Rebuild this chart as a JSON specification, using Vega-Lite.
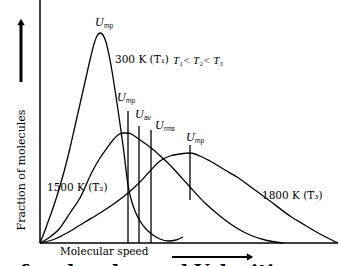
{
  "$schema": "https://vega.github.io/schema/vega-lite/v6.json",
  "width": 339,
  "height": 266,
  "padding": 0,
  "autosize": {"type": "none"},
  "background": "white",
  "config": {"view": {"stroke": null}},
  "datasets": {
    "curves": [
      {"T": "300 K", "speed": 0, "fraction": 0},
      {"T": "300 K", "speed": 4, "fraction": 10},
      {"T": "300 K", "speed": 8, "fraction": 21},
      {"T": "300 K", "speed": 12, "fraction": 32},
      {"T": "300 K", "speed": 16, "fraction": 44},
      {"T": "300 K", "speed": 20, "fraction": 57},
      {"T": "300 K", "speed": 25, "fraction": 75},
      {"T": "300 K", "speed": 30, "fraction": 95},
      {"T": "300 K", "speed": 35, "fraction": 117},
      {"T": "300 K", "speed": 40, "fraction": 139},
      {"T": "300 K", "speed": 45, "fraction": 161},
      {"T": "300 K", "speed": 50, "fraction": 183},
      {"T": "300 K", "speed": 54, "fraction": 199},
      {"T": "300 K", "speed": 57, "fraction": 207},
      {"T": "300 K", "speed": 60, "fraction": 210},
      {"T": "300 K", "speed": 63, "fraction": 208},
      {"T": "300 K", "speed": 66, "fraction": 201},
      {"T": "300 K", "speed": 69, "fraction": 188},
      {"T": "300 K", "speed": 72, "fraction": 172},
      {"T": "300 K", "speed": 75, "fraction": 153},
      {"T": "300 K", "speed": 78, "fraction": 133},
      {"T": "300 K", "speed": 81, "fraction": 112},
      {"T": "300 K", "speed": 84, "fraction": 90},
      {"T": "300 K", "speed": 86, "fraction": 73},
      {"T": "300 K", "speed": 88, "fraction": 58},
      {"T": "300 K", "speed": 91, "fraction": 44},
      {"T": "300 K", "speed": 95, "fraction": 32},
      {"T": "300 K", "speed": 100, "fraction": 22},
      {"T": "300 K", "speed": 106, "fraction": 14},
      {"T": "300 K", "speed": 113, "fraction": 8},
      {"T": "300 K", "speed": 120, "fraction": 4},
      {"T": "300 K", "speed": 128, "fraction": 2},
      {"T": "300 K", "speed": 136, "fraction": 3},
      {"T": "300 K", "speed": 143, "fraction": 6},
      {"T": "1500 K", "speed": 0, "fraction": 0},
      {"T": "1500 K", "speed": 10, "fraction": 6},
      {"T": "1500 K", "speed": 20, "fraction": 15},
      {"T": "1500 K", "speed": 30, "fraction": 30},
      {"T": "1500 K", "speed": 40, "fraction": 45},
      {"T": "1500 K", "speed": 52, "fraction": 71},
      {"T": "1500 K", "speed": 60, "fraction": 85},
      {"T": "1500 K", "speed": 67, "fraction": 95},
      {"T": "1500 K", "speed": 73, "fraction": 103},
      {"T": "1500 K", "speed": 78, "fraction": 108},
      {"T": "1500 K", "speed": 83, "fraction": 110},
      {"T": "1500 K", "speed": 88, "fraction": 110},
      {"T": "1500 K", "speed": 93, "fraction": 108},
      {"T": "1500 K", "speed": 100, "fraction": 103},
      {"T": "1500 K", "speed": 110, "fraction": 96},
      {"T": "1500 K", "speed": 117, "fraction": 90},
      {"T": "1500 K", "speed": 130, "fraction": 78},
      {"T": "1500 K", "speed": 140, "fraction": 67},
      {"T": "1500 K", "speed": 150, "fraction": 56},
      {"T": "1500 K", "speed": 165, "fraction": 40},
      {"T": "1500 K", "speed": 180, "fraction": 27},
      {"T": "1500 K", "speed": 195, "fraction": 16},
      {"T": "1500 K", "speed": 210, "fraction": 8},
      {"T": "1500 K", "speed": 225, "fraction": 3},
      {"T": "1500 K", "speed": 243, "fraction": 0},
      {"T": "1800 K", "speed": 0, "fraction": 0},
      {"T": "1800 K", "speed": 15, "fraction": 4},
      {"T": "1800 K", "speed": 27, "fraction": 10},
      {"T": "1800 K", "speed": 45, "fraction": 21},
      {"T": "1800 K", "speed": 60, "fraction": 30},
      {"T": "1800 K", "speed": 75, "fraction": 40},
      {"T": "1800 K", "speed": 88, "fraction": 50},
      {"T": "1800 K", "speed": 100, "fraction": 61},
      {"T": "1800 K", "speed": 110, "fraction": 72},
      {"T": "1800 K", "speed": 120, "fraction": 82},
      {"T": "1800 K", "speed": 130, "fraction": 87},
      {"T": "1800 K", "speed": 140, "fraction": 89},
      {"T": "1800 K", "speed": 150, "fraction": 90},
      {"T": "1800 K", "speed": 160, "fraction": 87},
      {"T": "1800 K", "speed": 170, "fraction": 82},
      {"T": "1800 K", "speed": 185, "fraction": 73},
      {"T": "1800 K", "speed": 197, "fraction": 66},
      {"T": "1800 K", "speed": 215, "fraction": 53},
      {"T": "1800 K", "speed": 230, "fraction": 42},
      {"T": "1800 K", "speed": 250, "fraction": 27},
      {"T": "1800 K", "speed": 263, "fraction": 19},
      {"T": "1800 K", "speed": 280, "fraction": 9},
      {"T": "1800 K", "speed": 298, "fraction": 0}
    ],
    "frame": [
      {"name": "y axis", "x1": 0, "x2": 0, "y1": 0, "y2": 243},
      {"name": "x axis", "x1": 0, "x2": 298, "y1": 0, "y2": 0}
    ],
    "speeds": [
      {"name": "Ump 1500", "x1": 88, "x2": 88, "y1": 0, "y2": 132},
      {"name": "Uav 1500", "x1": 99, "x2": 99, "y1": 0, "y2": 117},
      {"name": "Urms 1500", "x1": 111, "x2": 111, "y1": 0, "y2": 113},
      {"name": "Ump 1800", "x1": 150, "x2": 150, "y1": 43, "y2": 98}
    ],
    "arrows": [
      {"dir": "up", "x1": -19, "x2": -19, "y1": 161, "y2": 218},
      {"dir": "right", "x1": 132, "x2": 207, "y1": -14, "y2": -14}
    ],
    "heads": [
      {"dir": "up", "speed": -19, "fraction": 221, "shape": "triangle-up"},
      {"dir": "right", "speed": 210, "fraction": -14, "shape": "triangle-right"}
    ],
    "ulabels": [
      {"main": "U", "sub": "mp", "speed": 55, "fraction": 217},
      {"main": "U", "sub": "mp", "speed": 77, "fraction": 142},
      {"main": "U", "sub": "av", "speed": 95, "fraction": 125},
      {"main": "U", "sub": "rms", "speed": 115, "fraction": 114},
      {"main": "U", "sub": "mp", "speed": 146, "fraction": 102}
    ],
    "templabels": [
      {"text": "300 K (T₁)", "speed": 75, "fraction": 183},
      {"text": "1500 K (T₂)", "speed": 7, "fraction": 55},
      {"text": "1800 K (T₃)", "speed": 222, "fraction": 47}
    ]
  },
  "encoding": {
    "x": {"type": "quantitative", "scale": {"domain": [-40, 299], "nice": false, "zero": false}, "axis": null},
    "y": {"type": "quantitative", "scale": {"domain": [-23, 243], "nice": false, "zero": false}, "axis": null}
  },
  "layer": [
    {
      "data": {"name": "frame"},
      "mark": {"type": "rule", "color": "black", "strokeWidth": 1.5},
      "encoding": {
        "x": {"field": "x1", "type": "quantitative"},
        "x2": {"field": "x2"},
        "y": {"field": "y1", "type": "quantitative"},
        "y2": {"field": "y2"}
      }
    },
    {
      "data": {"name": "curves"},
      "mark": {"type": "line", "color": "black", "strokeWidth": 1.3, "interpolate": "monotone"},
      "encoding": {
        "x": {"field": "speed", "type": "quantitative"},
        "y": {"field": "fraction", "type": "quantitative"},
        "detail": {"field": "T", "type": "nominal"}
      }
    },
    {
      "data": {"name": "speeds"},
      "mark": {"type": "rule", "color": "black", "strokeWidth": 1.3},
      "encoding": {
        "x": {"field": "x1", "type": "quantitative"},
        "x2": {"field": "x2"},
        "y": {"field": "y1", "type": "quantitative"},
        "y2": {"field": "y2"}
      }
    },
    {
      "data": {"name": "arrows"},
      "mark": {"type": "rule", "color": "black"},
      "encoding": {
        "x": {"field": "x1", "type": "quantitative"},
        "x2": {"field": "x2"},
        "y": {"field": "y1", "type": "quantitative"},
        "y2": {"field": "y2"},
        "strokeWidth": {"field": "dir", "type": "nominal", "scale": {"domain": ["up", "right"], "range": [3, 2.2]}, "legend": null}
      }
    },
    {
      "data": {"name": "heads"},
      "mark": {"type": "point", "filled": true, "color": "black", "opacity": 1, "size": 55},
      "encoding": {
        "x": {"field": "speed", "type": "quantitative"},
        "y": {"field": "fraction", "type": "quantitative"},
        "shape": {"field": "shape", "type": "nominal", "scale": null}
      }
    },
    {
      "data": {"name": "ulabels"},
      "mark": {"type": "text", "font": "Liberation Serif", "fontStyle": "italic", "fontSize": 12, "align": "left", "baseline": "alphabetic", "color": "black"},
      "encoding": {
        "x": {"field": "speed", "type": "quantitative"},
        "y": {"field": "fraction", "type": "quantitative"},
        "text": {"field": "main"}
      }
    },
    {
      "data": {"name": "ulabels"},
      "mark": {"type": "text", "font": "Liberation Sans", "fontSize": 6.5, "align": "left", "baseline": "alphabetic", "dx": 9, "dy": 2, "color": "black"},
      "encoding": {
        "x": {"field": "speed", "type": "quantitative"},
        "y": {"field": "fraction", "type": "quantitative"},
        "text": {"field": "sub"}
      }
    },
    {
      "data": {"name": "templabels"},
      "mark": {"type": "text", "font": "DejaVu Serif", "fontSize": 10.5, "align": "left", "baseline": "middle", "color": "black"},
      "encoding": {
        "x": {"field": "speed", "type": "quantitative"},
        "y": {"field": "fraction", "type": "quantitative"},
        "text": {"field": "text"}
      }
    },
    {
      "data": {"values": [{"text": "T₁< T₂< T₃", "speed": 133, "fraction": 182}]},
      "mark": {"type": "text", "font": "Liberation Serif", "fontStyle": "italic", "fontSize": 11, "align": "left", "baseline": "middle", "color": "black"},
      "encoding": {
        "x": {"field": "speed", "type": "quantitative"},
        "y": {"field": "fraction", "type": "quantitative"},
        "text": {"field": "text"}
      }
    },
    {
      "data": {"values": [{"text": "Molecular speed", "speed": 20, "fraction": -9}]},
      "mark": {"type": "text", "font": "DejaVu Serif", "fontSize": 10.5, "align": "left", "baseline": "middle", "color": "black"},
      "encoding": {
        "x": {"field": "speed", "type": "quantitative"},
        "y": {"field": "fraction", "type": "quantitative"},
        "text": {"field": "text"}
      }
    },
    {
      "data": {"values": [{"text": "Fraction of molecules", "speed": -18, "fraction": 73}]},
      "mark": {"type": "text", "font": "DejaVu Serif", "fontSize": 11, "angle": 270, "align": "center", "baseline": "middle", "color": "black"},
      "encoding": {
        "x": {"field": "speed", "type": "quantitative"},
        "y": {"field": "fraction", "type": "quantitative"},
        "text": {"field": "text"}
      }
    },
    {
      "data": {"values": [{"text": "of molecules and Velocities", "speed": -33, "fraction": -35}]},
      "mark": {"type": "text", "font": "DejaVu Serif", "fontWeight": "bold", "fontSize": 19, "align": "left", "baseline": "alphabetic", "color": "black"},
      "encoding": {
        "x": {"field": "speed", "type": "quantitative"},
        "y": {"field": "fraction", "type": "quantitative"},
        "text": {"field": "text"}
      }
    }
  ]
}
